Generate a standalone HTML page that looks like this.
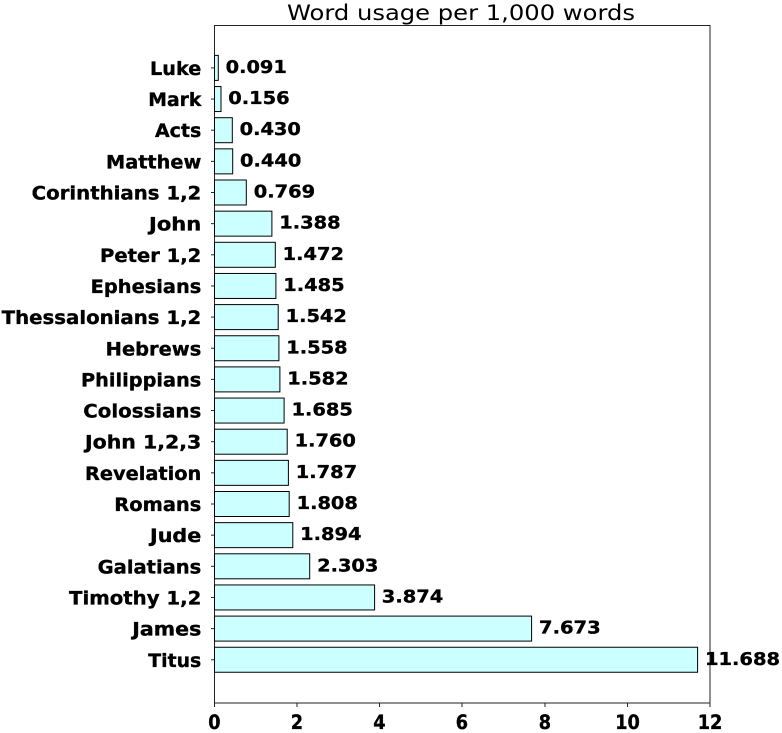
<!DOCTYPE html>
<html><head><meta charset="utf-8"><style>
html,body{margin:0;padding:0;background:#fff;}
svg{display:block;}
text{font-family:"DejaVu Sans","Liberation Sans",sans-serif;fill:#000;}
.n{font-weight:bold;font-size:19px;}
.v{font-weight:bold;font-size:18px;}
.t{font-weight:bold;font-size:19.5px;}
.n text,.v text,.t text{stroke:#000;stroke-width:0.35px;}
</style></head><body>
<svg width="782" height="733" viewBox="0 0 782 733" xmlns="http://www.w3.org/2000/svg">
<rect width="782" height="733" fill="#fff"/>
<text x="461" y="20" font-size="21.5" text-anchor="middle" textLength="348" lengthAdjust="spacingAndGlyphs">Word usage per 1,000 words</text>
<rect x="214.5" y="25.5" width="495.5" height="677.5" fill="none" stroke="#222" stroke-width="1"/>
<g fill="#ccffff" stroke="#000" stroke-width="1">
<rect x="214.5" y="55.4" width="3.8" height="25"/>
<rect x="214.5" y="86.55" width="6.5" height="25"/>
<rect x="214.5" y="117.7" width="17.8" height="25"/>
<rect x="214.5" y="148.85" width="18.2" height="25"/>
<rect x="214.5" y="180" width="31.8" height="25"/>
<rect x="214.5" y="211.15" width="57.4" height="25"/>
<rect x="214.5" y="242.3" width="60.8" height="25"/>
<rect x="214.5" y="273.45" width="61.4" height="25"/>
<rect x="214.5" y="304.6" width="63.7" height="25"/>
<rect x="214.5" y="335.75" width="64.4" height="25"/>
<rect x="214.5" y="366.9" width="65.4" height="25"/>
<rect x="214.5" y="398.05" width="69.6" height="25"/>
<rect x="214.5" y="429.2" width="72.7" height="25"/>
<rect x="214.5" y="460.35" width="73.9" height="25"/>
<rect x="214.5" y="491.5" width="74.7" height="25"/>
<rect x="214.5" y="522.65" width="78.3" height="25"/>
<rect x="214.5" y="553.8" width="95.2" height="25"/>
<rect x="214.5" y="584.95" width="160.1" height="25"/>
<rect x="214.5" y="616.1" width="317.1" height="25"/>
<rect x="214.5" y="647.25" width="483.1" height="25"/>
</g>
<g stroke="#222" stroke-width="1">
<line x1="211" x2="214" y1="67.9" y2="67.9"/>
<line x1="211" x2="214" y1="99.05" y2="99.05"/>
<line x1="211" x2="214" y1="130.2" y2="130.2"/>
<line x1="211" x2="214" y1="161.35" y2="161.35"/>
<line x1="211" x2="214" y1="192.5" y2="192.5"/>
<line x1="211" x2="214" y1="223.65" y2="223.65"/>
<line x1="211" x2="214" y1="254.8" y2="254.8"/>
<line x1="211" x2="214" y1="285.95" y2="285.95"/>
<line x1="211" x2="214" y1="317.1" y2="317.1"/>
<line x1="211" x2="214" y1="348.25" y2="348.25"/>
<line x1="211" x2="214" y1="379.4" y2="379.4"/>
<line x1="211" x2="214" y1="410.55" y2="410.55"/>
<line x1="211" x2="214" y1="441.7" y2="441.7"/>
<line x1="211" x2="214" y1="472.85" y2="472.85"/>
<line x1="211" x2="214" y1="504" y2="504"/>
<line x1="211" x2="214" y1="535.15" y2="535.15"/>
<line x1="211" x2="214" y1="566.3" y2="566.3"/>
<line x1="211" x2="214" y1="597.45" y2="597.45"/>
<line x1="211" x2="214" y1="628.6" y2="628.6"/>
<line x1="211" x2="214" y1="659.75" y2="659.75"/>
<line x1="214.5" x2="214.5" y1="703" y2="707"/>
<line x1="297" x2="297" y1="703" y2="707"/>
<line x1="379.5" x2="379.5" y1="703" y2="707"/>
<line x1="462" x2="462" y1="703" y2="707"/>
<line x1="545" x2="545" y1="703" y2="707"/>
<line x1="627.5" x2="627.5" y1="703" y2="707"/>
<line x1="710" x2="710" y1="703" y2="707"/>
</g>
<g class="n">
<text x="150" y="74.9" textLength="51.3" lengthAdjust="spacingAndGlyphs">Luke</text>
<text x="148.3" y="106.05" textLength="53" lengthAdjust="spacingAndGlyphs">Mark</text>
<text x="155" y="137.2" textLength="46.3" lengthAdjust="spacingAndGlyphs">Acts</text>
<text x="106" y="168.35" textLength="95.3" lengthAdjust="spacingAndGlyphs">Matthew</text>
<text x="31.7" y="199.5" textLength="169.6" lengthAdjust="spacingAndGlyphs">Corinthians 1,2</text>
<text x="149" y="230.65" textLength="52.3" lengthAdjust="spacingAndGlyphs">John</text>
<text x="100" y="261.8" textLength="101.3" lengthAdjust="spacingAndGlyphs">Peter 1,2</text>
<text x="90.7" y="292.95" textLength="110.6" lengthAdjust="spacingAndGlyphs">Ephesians</text>
<text x="1.7" y="324.1" textLength="199.6" lengthAdjust="spacingAndGlyphs">Thessalonians 1,2</text>
<text x="105.7" y="355.25" textLength="95.6" lengthAdjust="spacingAndGlyphs">Hebrews</text>
<text x="81" y="386.4" textLength="120.3" lengthAdjust="spacingAndGlyphs">Philippians</text>
<text x="83.3" y="417.55" textLength="118" lengthAdjust="spacingAndGlyphs">Colossians</text>
<text x="85" y="448.7" textLength="116.3" lengthAdjust="spacingAndGlyphs">John 1,2,3</text>
<text x="85" y="479.85" textLength="116.3" lengthAdjust="spacingAndGlyphs">Revelation</text>
<text x="114.3" y="511" textLength="87" lengthAdjust="spacingAndGlyphs">Romans</text>
<text x="150" y="542.15" textLength="51.3" lengthAdjust="spacingAndGlyphs">Jude</text>
<text x="97.7" y="573.3" textLength="103.6" lengthAdjust="spacingAndGlyphs">Galatians</text>
<text x="69" y="604.45" textLength="132.3" lengthAdjust="spacingAndGlyphs">Timothy 1,2</text>
<text x="132.3" y="635.6" textLength="69" lengthAdjust="spacingAndGlyphs">James</text>
<text x="148.3" y="666.75" textLength="53" lengthAdjust="spacingAndGlyphs">Titus</text>
</g>
<g class="v">
<text x="225.6" y="72.9" textLength="61.3" lengthAdjust="spacingAndGlyphs">0.091</text>
<text x="228.3" y="104.05" textLength="61.3" lengthAdjust="spacingAndGlyphs">0.156</text>
<text x="239.6" y="135.2" textLength="61.3" lengthAdjust="spacingAndGlyphs">0.430</text>
<text x="240" y="166.35" textLength="61.3" lengthAdjust="spacingAndGlyphs">0.440</text>
<text x="253.8" y="197.5" textLength="61.3" lengthAdjust="spacingAndGlyphs">0.769</text>
<text x="279.3" y="228.65" textLength="61.3" lengthAdjust="spacingAndGlyphs">1.388</text>
<text x="282.7" y="259.8" textLength="61.3" lengthAdjust="spacingAndGlyphs">1.472</text>
<text x="283.3" y="290.95" textLength="61.3" lengthAdjust="spacingAndGlyphs">1.485</text>
<text x="285.6" y="322.1" textLength="61.3" lengthAdjust="spacingAndGlyphs">1.542</text>
<text x="286.3" y="353.25" textLength="61.3" lengthAdjust="spacingAndGlyphs">1.558</text>
<text x="287.3" y="384.4" textLength="61.3" lengthAdjust="spacingAndGlyphs">1.582</text>
<text x="291.5" y="415.55" textLength="61.3" lengthAdjust="spacingAndGlyphs">1.685</text>
<text x="294.6" y="446.7" textLength="61.3" lengthAdjust="spacingAndGlyphs">1.760</text>
<text x="295.8" y="477.85" textLength="61.3" lengthAdjust="spacingAndGlyphs">1.787</text>
<text x="296.6" y="509" textLength="61.3" lengthAdjust="spacingAndGlyphs">1.808</text>
<text x="300.2" y="540.15" textLength="61.3" lengthAdjust="spacingAndGlyphs">1.894</text>
<text x="317.1" y="571.3" textLength="61.3" lengthAdjust="spacingAndGlyphs">2.303</text>
<text x="381.8" y="602.45" textLength="61.5" lengthAdjust="spacingAndGlyphs">3.874</text>
<text x="539" y="633.6" textLength="61.7" lengthAdjust="spacingAndGlyphs">7.673</text>
<text x="705" y="664.75" textLength="75" lengthAdjust="spacingAndGlyphs">11.688</text>
</g>
<g class="t">
<text x="208.3" y="729" textLength="12.3" lengthAdjust="spacingAndGlyphs">0</text>
<text x="290.8" y="729" textLength="12.3" lengthAdjust="spacingAndGlyphs">2</text>
<text x="373.3" y="729" textLength="12.3" lengthAdjust="spacingAndGlyphs">4</text>
<text x="455.8" y="729" textLength="12.3" lengthAdjust="spacingAndGlyphs">6</text>
<text x="538.8" y="729" textLength="12.3" lengthAdjust="spacingAndGlyphs">8</text>
<text x="615.2" y="729" textLength="24.7" lengthAdjust="spacingAndGlyphs">10</text>
<text x="697.7" y="729" textLength="24.7" lengthAdjust="spacingAndGlyphs">12</text>
</g>
</svg>
</body></html>
